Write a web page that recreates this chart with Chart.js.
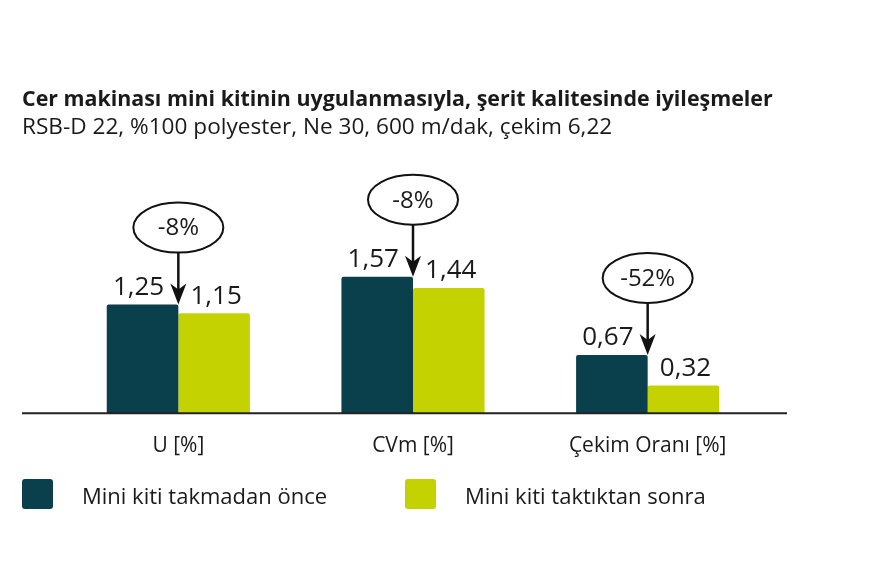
<!DOCTYPE html>
<html>
<head>
<meta charset="utf-8">
<script src="https://cdn.jsdelivr.net/npm/chart.js@4.4.1/dist/chart.umd.min.js"></script>
<style>
  html, body { margin: 0; padding: 0; background: #fff; }
</style>
</head>
<body>
<canvas id="chart" width="890" height="586"></canvas>
<script>
const titleText = 'Cer makinası mini kitinin uygulanmasıyla, şerit kalitesinde iyileşmeler';
const subtitleText = 'RSB-D 22, %100 polyester, Ne 30, 600 m/dak, çekim 6,22';
const categories = ['U [%]', 'CVm [%]', 'Çekim Oranı [%]'];
const seriesNames = ['Mini kiti takmadan önce', 'Mini kiti taktıktan sonra'];
const beforeValues = [1.25, 1.57, 0.67];
const afterValues = [1.15, 1.44, 0.32];
const changeLabels = ['-8%', '-8%', '-52%'];

const darkTeal = '#0a3f4c';
const lime = '#c3d200';
const textColor = '#1a1a1a';
const fontFamily = "'Open Sans', 'Noto Sans', sans-serif";

let fmt = function(v) {
  return v.toFixed(2).replace('.', ',');
};

// title, value labels, change bubbles, baseline and legend
const extras = {
  id: 'extras',
  afterDatasetsDraw(chart) {
    const ctx = chart.ctx;
    const xs = chart.scales.x;
    const ys = chart.scales.y;
    const y0 = ys.getPixelForValue(0);

    ctx.save();
    // baseline
    ctx.strokeStyle = '#222';
    ctx.lineWidth = 2;
    ctx.beginPath();
    ctx.moveTo(22, y0);
    ctx.lineTo(787, y0);
    ctx.stroke();

    // value labels
    ctx.fillStyle = textColor;
    ctx.font = '26px ' + fontFamily;
    ctx.textAlign = 'center';
    ctx.textBaseline = 'bottom';
    chart.data.datasets.forEach((ds, di) => {
      chart.getDatasetMeta(di).data.forEach((bar, i) => {
        ctx.fillText(fmt(ds.data[i]), bar.x - (di === 0 ? 4 : -2), bar.y - 4);
      });
    });

    // change bubbles with arrows
    categories.forEach((c, i) => {
      let cx = xs.getPixelForValue(i);
      let tip = ys.getPixelForValue(beforeValues[i]);
      let cy = tip - 77;
      let rx = 45, ry = 25;
      ctx.strokeStyle = '#111';
      ctx.lineWidth = 2;
      ctx.beginPath();
      ctx.ellipse(cx, cy, rx, ry, 0, 0, Math.PI * 2);
      ctx.fillStyle = '#fff';
      ctx.fill();
      ctx.stroke();
      ctx.fillStyle = textColor;
      ctx.font = '24px ' + fontFamily;
      ctx.textBaseline = 'middle';
      ctx.fillText(changeLabels[i], cx, cy + 1);

      ctx.lineWidth = 2.5;
      ctx.beginPath();
      ctx.moveTo(cx, cy + ry);
      ctx.lineTo(cx, tip - 12);
      ctx.stroke();
      ctx.fillStyle = '#111';
      ctx.beginPath();
      ctx.moveTo(cx, tip);
      ctx.lineTo(cx - 8, tip - 21);
      ctx.lineTo(cx, tip - 15);
      ctx.lineTo(cx + 8, tip - 21);
      ctx.closePath();
      ctx.fill();
    });
    ctx.restore();
  },
  afterDraw(chart) {
    const ctx = chart.ctx;
    ctx.save();
    ctx.fillStyle = textColor;
    ctx.textAlign = 'left';
    ctx.textBaseline = 'alphabetic';
    ctx.font = 'bold 21.4px ' + fontFamily;
    ctx.fillText(titleText, 22, 106);
    ctx.font = '22.6px ' + fontFamily;
    ctx.fillText(subtitleText, 22, 134);

    // legend
    const boxX = [22, 405];
    chart.data.datasets.forEach((ds, di) => {
      ctx.fillStyle = ds.backgroundColor;
      ctx.beginPath();
      ctx.roundRect(boxX[di], 479, 31, 30, 3);
      ctx.fill();
      ctx.fillStyle = textColor;
      ctx.font = '22px ' + fontFamily;
      ctx.fillText(ds.label, boxX[di] + 60, 504);
    });
    ctx.restore();
  }
};

new Chart(document.getElementById('chart'), {
  type: 'bar',
  data: {
    labels: categories,
    datasets: [{
      label: seriesNames[0],
      data: beforeValues,
      backgroundColor: darkTeal,
      borderRadius: 2,
      borderSkipped: 'bottom'
    }, {
      label: seriesNames[1],
      data: afterValues,
      backgroundColor: lime,
      borderRadius: 2,
      borderSkipped: 'bottom'
    }]
  },
  options: {
    responsive: false,
    devicePixelRatio: 1,
    animation: false,
    datasets: {
      bar: { categoryPercentage: 0.61, barPercentage: 1 }
    },
    layout: { padding: { left: 61, right: 125, top: 152.5, bottom: 115.6 } },
    plugins: {
      legend: { display: false },
      title: { display: false },
      tooltip: { enabled: false }
    },
    scales: {
      x: {
        grid: { display: false },
        border: { display: false },
        ticks: { color: textColor, font: { family: fontFamily, size: 21 }, padding: 12 }
      },
      y: { display: false, min: 0, max: 3 }
    }
  },
  plugins: [extras]
});
</script>
</body>
</html>
